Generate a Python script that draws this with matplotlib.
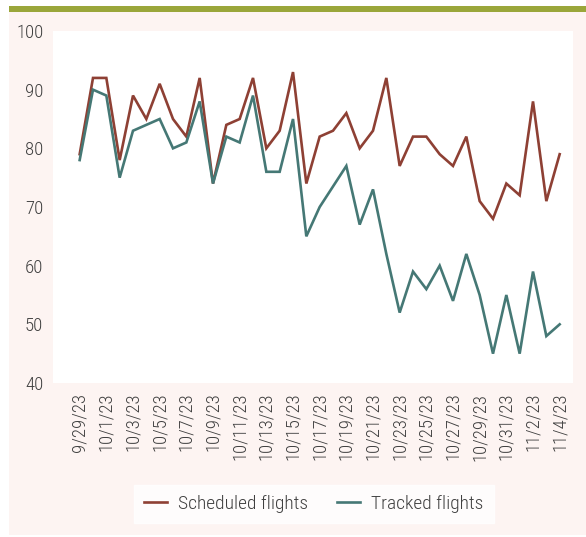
import matplotlib
matplotlib.use("Agg")
import matplotlib.pyplot as plt
from matplotlib.patches import Rectangle
from matplotlib import font_manager

dates = ["9/29/23", "9/30/23", "10/1/23", "10/2/23", "10/3/23", "10/4/23", "10/5/23",
         "10/6/23", "10/7/23", "10/8/23", "10/9/23", "10/10/23", "10/11/23", "10/12/23",
         "10/13/23", "10/14/23", "10/15/23", "10/16/23", "10/17/23", "10/18/23", "10/19/23",
         "10/20/23", "10/21/23", "10/22/23", "10/23/23", "10/24/23", "10/25/23", "10/26/23",
         "10/27/23", "10/28/23", "10/29/23", "10/30/23", "10/31/23", "11/1/23", "11/2/23",
         "11/3/23", "11/4/23"]
scheduled = [79, 92, 92, 78, 89, 85, 91, 85, 82, 92, 74, 84, 85, 92, 80, 83, 93, 74, 82,
             83, 86, 80, 83, 92, 77, 82, 82, 79, 77, 82, 71, 68, 74, 72, 88, 71, 79]
tracked = [78, 90, 89, 75, 83, 84, 85, 80, 81, 88, 74, 82, 81, 89, 76, 76, 85, 65, 70,
           73.5, 77, 67, 73, 62, 52, 59, 56, 60, 54, 62, 55, 45, 55, 45, 59, 48, 50]
yticks = [40, 50, 60, 70, 80, 90, 100]

avail = {f.name for f in font_manager.fontManager.ttflist}
fam = [f for f in ["Roboto Condensed", "Liberation Sans Narrow", "Liberation Sans"] if f in avail] + ["DejaVu Sans"]
plt.rcParams['font.family'] = fam
plt.rcParams['font.weight'] = 'light'

W, H = 586, 537
fig = plt.figure(figsize=(W / 100, H / 100), dpi=100)
fig.patch.set_facecolor("white")

def fx(x): return x / W
def fy(y): return 1 - y / H

# pink background panel
fig.patches.append(Rectangle((fx(9), fy(535)), fx(586) - fx(9), fy(12) - fy(535),
                             transform=fig.transFigure, facecolor="#FDF4F2", edgecolor="none", zorder=0))
# green top bar
fig.patches.append(Rectangle((fx(9), fy(12)), fx(586) - fx(9), fy(6) - fy(12),
                             transform=fig.transFigure, facecolor="#9AA63A", edgecolor="none", zorder=1))

ax = fig.add_axes([fx(53), fy(383), fx(573) - fx(53), fy(31) - fy(383)])
ax.set_zorder(3)
ax.set_facecolor("white")
x = list(range(len(dates)))
red = "#8E4034"
teal = "#457875"
ax.plot(x, scheduled, color=red, lw=1.9, label="Scheduled flights", solid_joinstyle="miter")
ax.plot(x, tracked, color=teal, lw=1.9, label="Tracked flights", solid_joinstyle="miter")
ax.set_xlim(-2, 37)
ax.set_ylim(40, 100)
ax.set_yticks(yticks)
ax.set_xticks(x[::2])
ax.set_xticklabels(dates[::2], rotation=90, fontsize=13.5, color="#404040", fontweight="light")
for lab in ax.get_yticklabels():
    lab.set_fontsize(13.5)
    lab.set_color("#404040")
    lab.set_fontweight("light")
ax.tick_params(axis="both", length=0, pad=7)
for s in ax.spines.values():
    s.set_visible(False)

leg = fig.legend(loc="center", bbox_to_anchor=(fx(314), fy(504)), ncol=2, frameon=True,
                 prop={"size": 14, "weight": "light"}, handlelength=1.15, columnspacing=1.5,
                 handletextpad=0.6, borderpad=0.5, fancybox=False)
leg.set_zorder(4)
leg.get_frame().set_facecolor("white")
leg.get_frame().set_edgecolor("white")
for t in leg.get_texts():
    t.set_color("#404040")

fig.savefig("out.png", dpi=100)
